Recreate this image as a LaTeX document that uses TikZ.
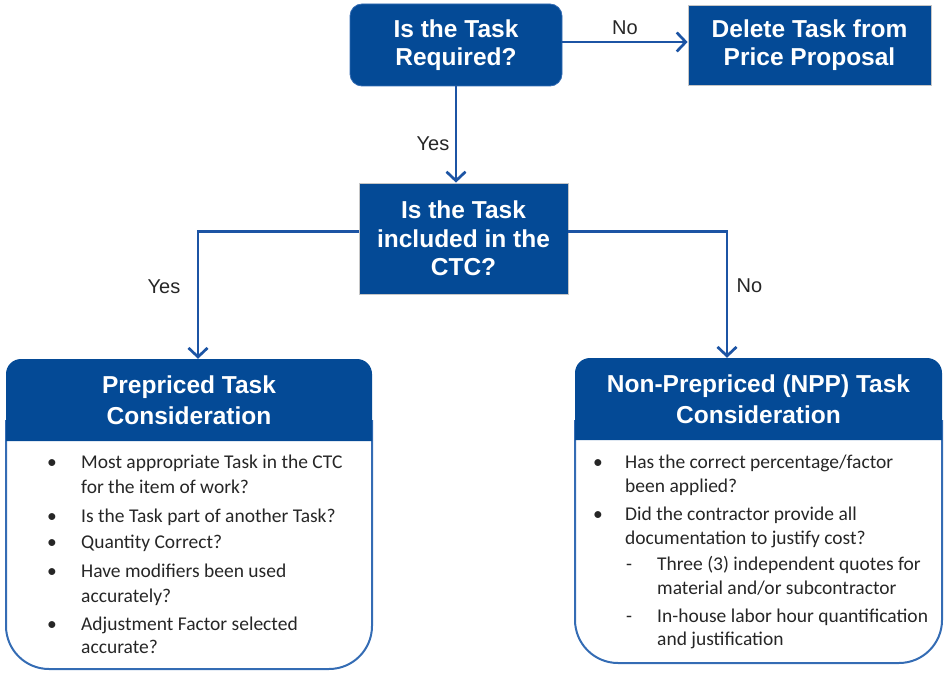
\documentclass[tikz,border=0pt]{standalone}
\usepackage{fontspec}
\setmainfont{Carlito}
\newfontfamily\arialfont{Liberation Sans}
\usetikzlibrary{arrows.meta}
\definecolor{boxblue}{RGB}{4,74,150}
\definecolor{lineblue}{RGB}{28,84,164}
\definecolor{edgeblue}{RGB}{52,108,180}
\definecolor{txtgray}{RGB}{38,38,38}

\begin{document}
\begin{tikzpicture}[x=1pt,y=-1pt,
  qbox/.style={fill=boxblue,draw=gray!45,line width=0.8pt,text=white,align=center,inner sep=0pt,
    font=\arialfont\bfseries\fontsize{24.5}{28.5}\selectfont},
  headtext/.style={text=white,align=center,inner sep=0pt,minimum width=366pt,minimum height=82pt,
    font=\arialfont\bfseries\fontsize{24.5}{31.5}\selectfont},
  link/.style={lineblue,line width=2.7pt,-{Straight Barb[length=9pt,width=19pt]}},
  lbl/.style={txtgray,font=\arialfont\fontsize{20}{24}\selectfont},
  itm/.style={anchor=base west,inner sep=0pt,txtgray,font=\fontsize{19.5}{24}\selectfont},
  bul/.style={anchor=base,inner sep=0pt,txtgray,font=\fontsize{19.5}{24}\selectfont},
  outline/.style={edgeblue,line width=2pt,rounded corners=43pt}]

\useasboundingbox (0,0) rectangle (944,674);

% question boxes
\node[qbox,rounded corners=12pt,draw=edgeblue,minimum width=212pt,minimum height=82pt] (req) at (456,45) {Is the Task\\Required?};
\node[qbox,minimum width=243pt,minimum height=80pt] (del) at (809.5,45) {Delete Task from\\Price Proposal};
\node[qbox,minimum width=209pt,minimum height=111pt] (ctc) at (463.5,238.5) {Is the Task\\included in the\\CTC?};

% prepriced
\draw[outline] (6,420) -- (6,669) -- (372,669) -- (372,420);
\fill[boxblue] (6,441) [rounded corners=15pt] -- (6,359) -- (372,359) [sharp corners] -- (372,441) -- cycle;
\node[headtext] (pre) at (189,400) {Prepriced Task\\Consideration};

% non-prepriced
\draw[outline] (575,420) -- (575,663) -- (942,663) -- (942,420);
\fill[boxblue] (575,440) [rounded corners=15pt] -- (575,358) -- (942,358) [sharp corners] -- (942,440) -- cycle;
\node[headtext,minimum width=367pt] (npp) at (758.5,399) {Non-Prepriced (NPP) Task\\Consideration};

% connectors
\draw[link] ([yshift=3pt]req.east) -- node[lbl,above=3pt] (no1) {No} ([yshift=3pt]del.west);
\draw[link] (req.south) -- node[lbl,pos=0.6,left=2pt] (yes1) {Yes} (req.south |- ctc.north);
\draw[link] ([yshift=7pt]ctc.west) -| node[lbl,pos=0.715,left=13pt] (yes2) {Yes} ([xshift=9pt]pre.north);
\draw[link] ([yshift=7pt]ctc.east) -| node[lbl,pos=0.715,right=5pt] (no2) {No} ([xshift=-31.5pt]npp.north);

% lists
\foreach \y/\t [count=\i] in {468/Most appropriate Task in the CTC, 493/for the item of work?,
    522/Is the Task part of another Task?, 548/Quantity Correct?, 577/Have modifiers been used,
    602/accurately?, 630/Adjustment Factor selected, 653/accurate?}
  \node[itm] (pl\i) at (81,\y) {\t};
\foreach \y [count=\i] in {468,522,548,577,630}
  \node[bul] (pb\i) at (52,\y) {\textbullet};

\foreach \y/\t [count=\i] in {468/{Has the correct percentage/factor}, 492/been applied?,
    520/Did the contractor provide all, 544/documentation to justify cost?}
  \node[itm] (nl\i) at (625,\y) {\t};
\foreach \y/\t [count=\i] in {570/Three (3) independent quotes for, 594/{material and/or subcontractor},
    622/In-house labor hour quantification, 645/and justification}
  \node[itm] (ns\i) at (657,\y) {\t};
\foreach \y [count=\i] in {468,520}
  \node[bul] (nb\i) at (598,\y) {\textbullet};
\foreach \y [count=\i] in {570,622}
  \node[bul] (nd\i) at (629,\y) {-};

\end{tikzpicture}
\end{document}
